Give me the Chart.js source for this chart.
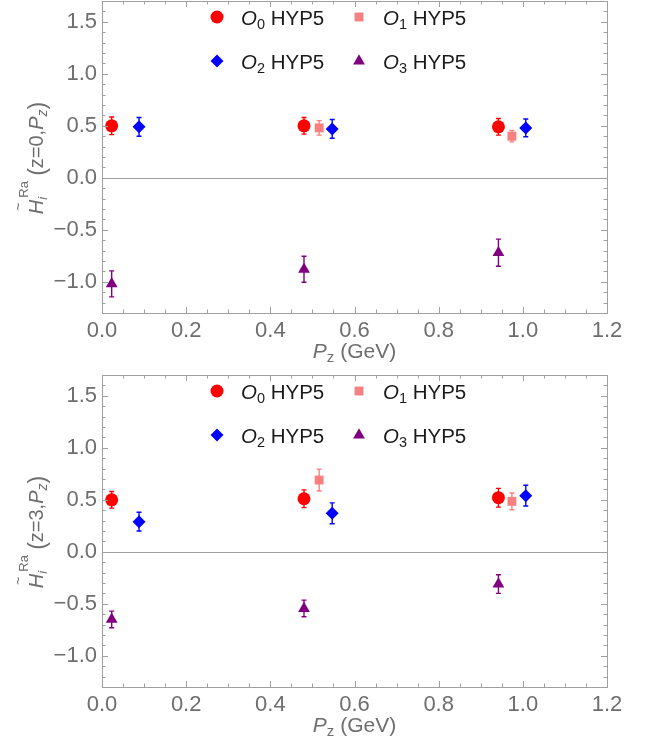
<!DOCTYPE html>
<html>
<head>
<meta charset="utf-8">
<script src="https://cdn.jsdelivr.net/npm/chart.js@4.4.0/dist/chart.umd.min.js"></script>
<style>
  html, body { margin: 0; padding: 0; background: #fff; }
  .panel { position: relative; width: 651px; height: 374px; }
</style>
</head>
<body>
<div class="panel"><canvas id="chartZ0"></canvas></div>
<div class="panel"><canvas id="chartZ3"></canvas></div>
<script>
// tick labels
const xTicks = [0, 0.2, 0.4, 0.6, 0.8, 1.0, 1.2]
const yTicks = [-1.0, -0.5, 0, 0.5, 1.0, 1.5]

// series (operators O0..O3), x positions slightly shifted per operator
const seriesSubs = ['0', '1', '2', '3']
const seriesColors = ['#ff0000', '#f98080', '#0000ff', '#800080']
const seriesStyles = ['circle', 'rect', 'rectRot', 'triangle']

const xO0 = [0.023, 0.480, 0.942]
const xO1 = [0.516, 0.974]
const xO2 = [0.088, 0.547, 1.007]
const xO3 = [0.023, 0.480, 0.942]

// z = 0
const o0Z0 = [0.50, 0.50, 0.49]
const o0Z0Err = [0.085, 0.08, 0.08]
const o1Z0 = [0.48, 0.40]
const o1Z0Err = [0.07, 0.055]
const o2Z0 = [0.49, 0.47, 0.48]
const o2Z0Err = [0.09, 0.09, 0.085]
const o3Z0 = [-1.02, -0.88, -0.72]
const o3Z0Err = [0.125, 0.125, 0.13]

// z = 3
const o0Z3 = [0.50, 0.51, 0.52]
const o0Z3Err = [0.08, 0.085, 0.09]
const o1Z3 = [0.69, 0.485]
const o1Z3Err = [0.105, 0.08]
const o2Z3 = [0.29, 0.37, 0.54]
const o2Z3Err = [0.09, 0.10, 0.10]
const o3Z3 = [-0.65, -0.545, -0.31]
const o3Z3Err = [0.08, 0.08, 0.09]

const FONT = '"Liberation Sans", Arial, sans-serif'
const GRAY = '#6e6e6e'
const FRAME = '#a0a0a0'
const radii = [6.5, 6.3, 6.5, 6.8]

function makeDatasets(xs, ys, errs) {
   return xs.map((xArr, s) => ({
      label: 'O' + seriesSubs[s] + ' HYP5',
      data: xArr.map((x, i) => ({ x: x, y: ys[s][i] })),
      errors: errs[s],
      pointStyle: seriesStyles[s],
      pointRadius: radii[s],
      pointHoverRadius: radii[s],
      backgroundColor: seriesColors[s],
      borderColor: seriesColors[s],
      borderWidth: 0,
      showLine: false
   }))
}

// draws runs of text with different fonts / vertical shifts
function drawRich(ctx, parts, x, y, align) {
   let total = 0
   parts.forEach(p => {
      ctx.font = p.font
      p.w = ctx.measureText(p.t).width
      if (p.adv !== false) total += p.w
   })
   let cx = align === 'center' ? x - total / 2 : x
   parts.forEach(p => {
      ctx.font = p.font
      ctx.fillText(p.t, cx + (p.dx || 0), y + (p.dy || 0))
      if (p.adv !== false) cx += p.w
   })
}

function drawMarker(ctx, s, x, y, r) {
   const opts = { pointStyle: seriesStyles[s], radius: r, rotation: 0, borderWidth: 0 }
   ctx.fillStyle = seriesColors[s]
   ctx.strokeStyle = seriesColors[s]
   Chart.helpers.drawPoint(ctx, opts, x, y)
}

const framePlugin = {
   id: 'framePlugin',
   beforeDatasetsDraw(chart) {
      const { ctx, chartArea: a, scales: { x, y } } = chart
      ctx.save()
      // zero line
      ctx.strokeStyle = FRAME
      ctx.lineWidth = 1.2
      const y0 = Math.round(y.getPixelForValue(0)) + 0.5
      ctx.beginPath()
      ctx.moveTo(a.left, y0)
      ctx.lineTo(a.right, y0)
      ctx.stroke()
      // error bars
      chart.data.datasets.forEach((ds, i) => {
         const meta = chart.getDatasetMeta(i)
         ctx.strokeStyle = ds.borderColor
         ctx.lineWidth = 1.4
         meta.data.forEach((el, j) => {
            const v = ds.data[j].y
            const e = ds.errors[j]
            const yt = y.getPixelForValue(v + e)
            const yb = y.getPixelForValue(v - e)
            ctx.beginPath()
            ctx.moveTo(el.x, yt)
            ctx.lineTo(el.x, yb)
            ctx.moveTo(el.x - 2.5, yt)
            ctx.lineTo(el.x + 2.5, yt)
            ctx.moveTo(el.x - 2.5, yb)
            ctx.lineTo(el.x + 2.5, yb)
            ctx.stroke()
         })
      })
      ctx.restore()
   },
   afterDraw(chart, args, opts) {
      const { ctx, chartArea: a, scales: { x, y } } = chart
      ctx.save()
      // frame
      ctx.strokeStyle = FRAME
      ctx.lineWidth = 1
      ctx.strokeRect(Math.round(a.left) + 0.5, Math.round(a.top) + 0.5,
         Math.round(a.right - a.left), Math.round(a.bottom - a.top))
      // ticks inward on all four sides
      ctx.beginPath()
      for (let k = 0; k <= 24; k++) {
         const v = k * 0.05
         const px = Math.round(x.getPixelForValue(v)) + 0.5
         const len = k % 4 === 0 ? 6 : 3.5
         ctx.moveTo(px, a.bottom); ctx.lineTo(px, a.bottom - len)
         ctx.moveTo(px, a.top); ctx.lineTo(px, a.top + len)
      }
      for (let k = -13; k <= 17; k++) {
         const v = k * 0.1
         const py = Math.round(y.getPixelForValue(v)) + 0.5
         const len = k % 5 === 0 ? 6 : 3.5
         ctx.moveTo(a.left, py); ctx.lineTo(a.left + len, py)
         ctx.moveTo(a.right, py); ctx.lineTo(a.right - len, py)
      }
      ctx.stroke()

      // legend, two rows of two
      const lx = [217, 359]
      const ly = [16, 60]
      ctx.textBaseline = 'alphabetic'
      seriesSubs.forEach((sub, s) => {
         const col = s % 2
         const row = Math.floor(s / 2)
         const mx = lx[col]
         const my = a.top + ly[row]
         drawMarker(ctx, s, mx, my, radii[s])
         ctx.fillStyle = '#1a1a1a'
         drawRich(ctx, [
            { t: 'O', font: 'italic 20.5px ' + FONT },
            { t: sub, font: '14.5px ' + FONT, dy: 4 },
            { t: ' HYP5', font: '20.5px ' + FONT }
         ], mx + 24, my + 7.5, 'left')
      })

      // x title
      ctx.fillStyle = GRAY
      drawRich(ctx, [
         { t: 'P', font: 'italic 21px ' + FONT },
         { t: 'z', font: '15px ' + FONT, dy: 4 },
         { t: ' (GeV)', font: '21px ' + FONT }
      ], (a.left + a.right) / 2, 358, 'center')

      // y title (rotated)
      ctx.translate(43, 158)
      ctx.rotate(-Math.PI / 2)
      drawRich(ctx, [
         { t: 'H', font: 'italic 20px ' + FONT },
         { t: '~', font: '14px ' + FONT, dx: -11, dy: -20, adv: false },
         { t: 'i', font: 'italic 13px ' + FONT, dy: 4, adv: false },
         { t: 'Ra', font: '13px ' + FONT, dx: 2, dy: -15 },
         { t: '  ', font: '13px ' + FONT },
         { t: '(', font: '23px ' + FONT, dy: 2 },
         { t: 'z=' + opts.z + ',', font: '20px ' + FONT },
         { t: 'P', font: 'italic 20px ' + FONT },
         { t: 'z', font: 'italic 14px ' + FONT, dy: 4 },
         { t: ')', font: '23px ' + FONT, dy: 2 }
      ], 0, 0, 'center')
      ctx.restore()
   }
}

function makeChart(id, z, ys, errs) {
   return new Chart(document.getElementById(id), {
      type: 'scatter',
      data: { datasets: makeDatasets([xO0, xO1, xO2, xO3], ys, errs) },
      options: {
         responsive: true,
         maintainAspectRatio: false,
         animation: false,
         layout: { autoPadding: false, padding: { top: 1, right: 44, left: 0, bottom: 0 } },
         plugins: {
            legend: { display: false },
            tooltip: { enabled: false },
            framePlugin: { z: z }
         },
         scales: {
            x: {
               type: 'linear',
               min: 0,
               max: 1.2,
               afterBuildTicks: s => { s.ticks = xTicks.map(v => ({ value: v })) },
               afterFit: s => { s.height = 61; s.paddingLeft = 0; s.paddingRight = 0 },
               grid: { display: false, drawTicks: false, tickLength: 0 },
               border: { display: false },
               ticks: {
                  autoSkip: false,
                  maxRotation: 0,
                  color: GRAY,
                  padding: 5,
                  font: { family: FONT, size: 22 },
                  callback: v => v.toFixed(1)
               }
            },
            y: {
               type: 'linear',
               min: -1.3,
               max: 1.7,
               afterBuildTicks: s => { s.ticks = yTicks.map(v => ({ value: v })) },
               afterFit: s => { s.width = 102; s.paddingTop = 0; s.paddingBottom = 0 },
               grid: { display: false, drawTicks: false, tickLength: 0 },
               border: { display: false },
               ticks: {
                  autoSkip: false,
                  color: GRAY,
                  padding: 5,
                  font: { family: FONT, size: 22 },
                  callback: v => (v < 0 ? '\u2212' : '') + Math.abs(v).toFixed(1)
               }
            }
         }
      },
      plugins: [framePlugin]
   })
}

makeChart('chartZ0', 0, [o0Z0, o1Z0, o2Z0, o3Z0], [o0Z0Err, o1Z0Err, o2Z0Err, o3Z0Err])
makeChart('chartZ3', 3, [o0Z3, o1Z3, o2Z3, o3Z3], [o0Z3Err, o1Z3Err, o2Z3Err, o3Z3Err])
</script>
</body>
</html>
